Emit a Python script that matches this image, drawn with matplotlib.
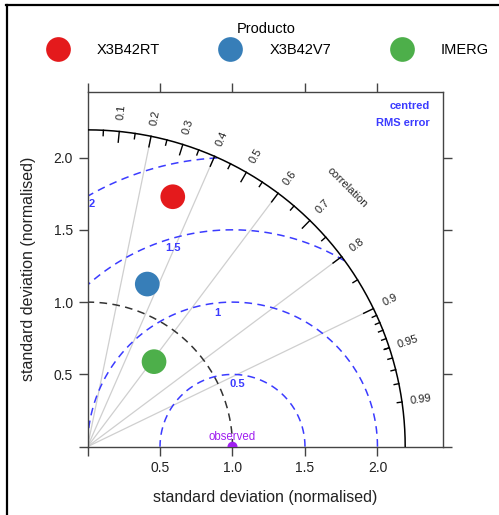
import numpy as np
import matplotlib.pyplot as plt
from matplotlib.lines import Line2D

plt.rcParams['font.family'] = ['Liberation Sans', 'DejaVu Sans']

# Productos y estadisticos normalizados respecto a la observacion
productos = ['X3B42RT', 'X3B42V7', 'IMERG']
desv_norm = [1.826, 1.198, 0.746]
correlacion = [0.322, 0.344, 0.615]
colores = ['#E41A1C', '#377EB8', '#4DAF4A']

# Niveles de RMS centrado y angulo (grados) donde se rotula cada arco
rms_niveles = [0.5, 1, 1.5, 2]
rms_ang_etiqueta = [86, 96, 106, 119]

corr_lineas = [0.2, 0.4, 0.6, 0.8, 0.9]
corr_etiquetas = [0.1, 0.2, 0.3, 0.4, 0.5, 0.6, 0.7, 0.8, 0.9, 0.95, 0.99]

ejes_ticks = [0, 0.5, 1.0, 1.5, 2.0]
ejes_etiquetas = ['', '0.5', '1.0', '1.5', '2.0']

maxsd = 1.2 * max(desv_norm)
azul = '#3B3BFF'
morado = '#A020F0'

fig = plt.figure(figsize=(4.99, 5.15), dpi=100)
ax = fig.add_axes([0.1754, 0.1326, 0.7118, 0.6893])
ax.set_xlim(0, 2.45)
ax.set_ylim(0, 2.455)

# lineas de correlacion
for c in corr_lineas:
    ax.plot([0, c * maxsd], [0, np.sqrt(1 - c ** 2) * maxsd],
            color='#cfcfcf', lw=0.9, zorder=1)

# arco exterior
th = np.linspace(0, np.pi / 2, 400)
ax.plot(maxsd * np.cos(th), maxsd * np.sin(th), color='black', lw=1.1, zorder=3)

# marcas sobre el arco
def marcas(valores, largo):
    for c in valores:
        a = np.arccos(c)
        ax.plot([maxsd * np.cos(a), largo * maxsd * np.cos(a)],
                [maxsd * np.sin(a), largo * maxsd * np.sin(a)],
                color='black', lw=1.0, zorder=3)

marcas(np.arange(0.1, 0.91, 0.1), 0.966)
marcas(np.arange(0.05, 0.96, 0.1), 0.983)
marcas(np.arange(0.91, 0.995, 0.01), 0.985)

for c in corr_etiquetas:
    a = np.arccos(c)
    ax.text(1.06 * maxsd * np.cos(a), 1.06 * maxsd * np.sin(a), f'{c:g}',
            rotation=np.degrees(a), rotation_mode='anchor',
            ha='center', va='center', fontsize=8, color='#222222')

ax.text(1.157 * maxsd * np.cos(np.pi / 4), 1.157 * maxsd * np.sin(np.pi / 4),
        'correlation', rotation=-45, rotation_mode='anchor',
        ha='center', va='center', fontsize=8, color='#222222')

# desviacion estandar de la observacion
ax.plot(np.cos(th), np.sin(th), color='#333333', lw=1.1, ls=(0, (5, 3.5)), zorder=2)

# arcos de RMS centrado alrededor de la observacion
tt = np.linspace(0, np.pi, 800)
for r, ang in zip(rms_niveles, rms_ang_etiqueta):
    x = 1 + r * np.cos(tt)
    y = r * np.sin(tt)
    fuera = (x < 0) | (x ** 2 + y ** 2 > maxsd ** 2)
    x[fuera] = np.nan
    y[fuera] = np.nan
    ax.plot(x, y, color=azul, lw=1.1, ls=(0, (5, 3.5)), zorder=2)
    a = np.radians(ang)
    ax.annotate(f'{r:g}', (1 + r * np.cos(a), r * np.sin(a)),
                xytext=(0, -3.5), textcoords='offset points',
                ha='center', va='top', fontsize=8, fontweight='bold', color=azul)

ax.text(2.36, 2.358, 'centred', ha='right', va='center',
        fontsize=8, fontweight='bold', color=azul)
ax.text(2.36, 2.236, 'RMS error', ha='right', va='center',
        fontsize=8, fontweight='bold', color=azul)

# punto observado
ax.scatter([1], [0], s=52, color=morado, edgecolors='none', zorder=4)
ax.text(1, 0.065, 'observed', ha='center', va='center', fontsize=8.3, color=morado)

# productos
for sd, c, col in zip(desv_norm, correlacion, colores):
    ax.scatter(sd * c, sd * np.sqrt(1 - c ** 2), s=316, color=col,
               edgecolors='none', zorder=5)

for s in ax.spines.values():
    s.set_color('#444444')
    s.set_linewidth(1.0)
ax.set_xticks(ejes_ticks)
ax.set_xticklabels(ejes_etiquetas)
ax.set_yticks(ejes_ticks)
ax.set_yticklabels(ejes_etiquetas)
ax.tick_params(direction='out', length=6.5, width=1, color='#444444',
               top=True, right=True, labelsize=10, labelcolor='#222222')
ax.tick_params(axis='y', pad=4)
ax.set_xlabel('standard deviation (normalised)', fontsize=11.5, color='#222222')
ax.set_ylabel('standard deviation (normalised)', fontsize=11.5, color='#222222')
ax.xaxis.set_label_coords(0.5, -0.122)
ax.yaxis.set_label_coords(-0.1464, 0.5)

manejadores = [Line2D([], [], marker='o', ls='', markersize=17.8, color=col,
                      markeredgewidth=0) for col in colores]
fig.legend(manejadores, productos, title='Producto', ncol=3, frameon=False,
           fontsize=10.5, title_fontsize=10.5, handlelength=2,
           handletextpad=1.67, columnspacing=3.85,
           loc='upper center', bbox_to_anchor=(0.533, 0.983))

# marco de la figura
fig.add_artist(Line2D([6 / 499, 1], [1 - 5 / 515, 1 - 5 / 515],
                      transform=fig.transFigure, color='black', lw=1.6))
fig.add_artist(Line2D([7 / 499, 7 / 499], [0, 1 - 5 / 515],
                      transform=fig.transFigure, color='black', lw=1.6))

fig.savefig('out.png', dpi=100)
